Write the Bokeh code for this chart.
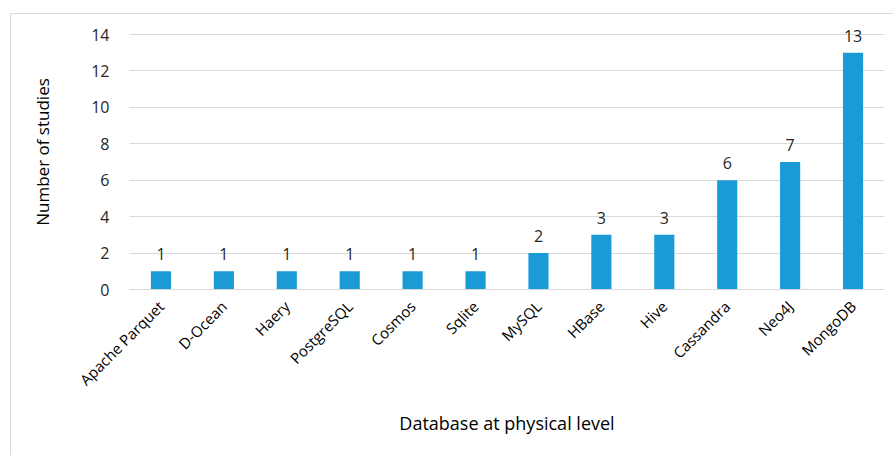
import math
from bokeh.plotting import figure
from bokeh.models import ColumnDataSource, Range1d, LabelSet
from bokeh.core.properties import value
from bokeh.embed import file_html
from bokeh.resources import INLINE

categories = ["Apache Parquet", "D-Ocean", "Haery", "PostgreSQL", "Cosmos", "Sqlite",
              "MySQL", "HBase", "Hive", "Cassandra", "Neo4J", "MongoDB"]
studies = [1, 1, 1, 1, 1, 1, 2, 3, 3, 6, 7, 13]
y_ticks = [0, 2, 4, 6, 8, 10, 12, 14]

FONT = "Open Sans"
TXT = "#262626"

src = ColumnDataSource(dict(cat=categories, val=studies, lab=[str(v) for v in studies]))

p = figure(x_range=categories, y_range=Range1d(0, 15.1), width=883, height=447,
           output_backend="svg", toolbar_location=None,
           min_border_left=118, min_border_right=10, min_border_top=0, min_border_bottom=172)
p.margin = (13, 0, 0, 10)
p.styles = {"border-left": "1.5px solid #d9d9d9", "border-top": "1.5px solid #d9d9d9"}

p.vbar(x="cat", top="val", width=0.32, source=src, fill_color="#1a9bd6", line_color=None)

labels = LabelSet(x="cat", y="val", text="lab", source=src, text_align="center",
                  text_baseline="bottom", y_offset=11, text_font=value(FONT),
                  text_font_size="16px", text_color=TXT)
p.add_layout(labels)

p.outline_line_color = None
p.xgrid.grid_line_color = None
p.ygrid.grid_line_color = "#d9d9d9"
p.ygrid.grid_line_width = 1.2
p.yaxis.ticker = y_ticks
p.yaxis.axis_line_color = None
p.yaxis.major_tick_line_color = None
p.yaxis.minor_tick_line_color = None
p.yaxis.major_label_text_font = FONT
p.yaxis.major_label_text_font_size = "16px"
p.yaxis.major_label_text_color = TXT
p.yaxis.major_label_standoff = 14
p.yaxis.axis_label = "Number of studies"
p.yaxis.axis_label_text_font = FONT
p.yaxis.axis_label_text_font_size = "17px"
p.yaxis.axis_label_text_font_style = "normal"
p.yaxis.axis_label_text_color = "#000000"
p.yaxis.axis_label_standoff = 34

p.xaxis.axis_line_color = "#d9d9d9"
p.xaxis.axis_line_width = 1.2
p.xaxis.major_tick_line_color = None
p.xaxis.minor_tick_line_color = None
p.xaxis.major_label_orientation = math.pi / 4
p.xaxis.major_label_text_font = FONT
p.xaxis.major_label_text_font_size = "15px"
p.xaxis.major_label_text_color = "#000000"
p.xaxis.major_label_standoff = 8
p.xaxis.axis_label = "Database at physical level"
p.xaxis.axis_label_text_font = FONT
p.xaxis.axis_label_text_font_size = "18px"
p.xaxis.axis_label_text_font_style = "normal"
p.xaxis.axis_label_text_color = "#000000"
p.xaxis.axis_label_standoff = 12

open("out.html", "w").write(file_html(p, INLINE))
